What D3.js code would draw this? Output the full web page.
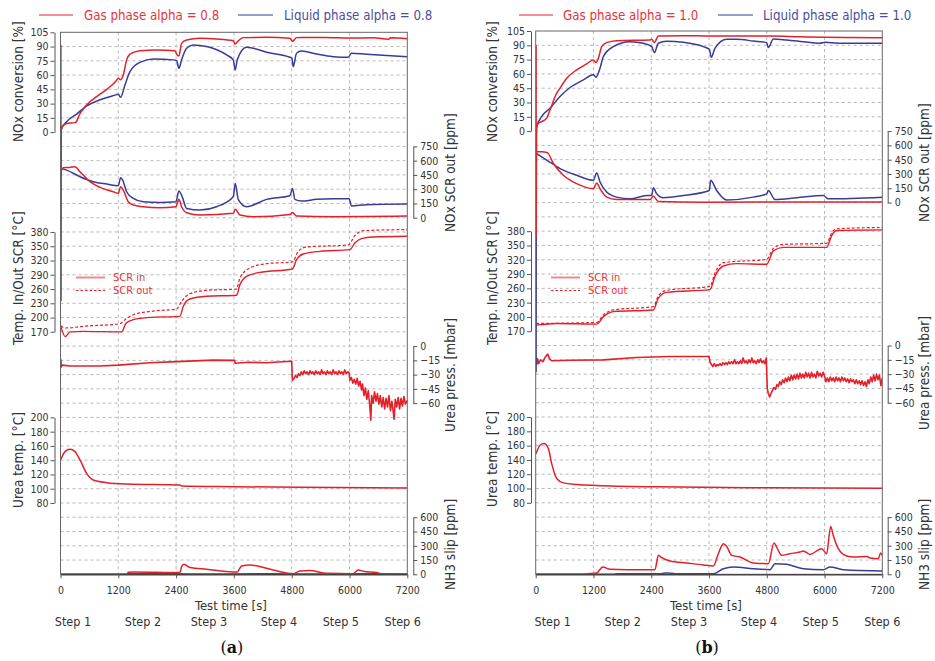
<!DOCTYPE html>
<html><head><meta charset="utf-8">
<script src="https://cdn.jsdelivr.net/npm/d3@7"></script>
<style>
body{margin:0;background:#fff}
svg{display:block}
text{font-family:"DejaVu Sans Condensed","DejaVu Sans",sans-serif}
</style>
</head><body>
<svg id="chart" width="935" height="661"></svg>
<script>
// ---------- tick labels / categories ----------
const timeTicks = [0,1200,2400,3600,4800,6000,7200];
const stepLabels = ["Step 1","Step 2","Step 3","Step 4","Step 5","Step 6"];
const convTicks = [0,15,30,45,60,75,90,105];
const noxTicks = [0,150,300,450,600,750];
const tempTicks = [170,200,230,260,290,320,350,380];
const pressTicks = [0,-15,-30,-45,-60];
const ureaTTicks = [80,100,120,140,160,180,200];
const nh3Ticks = [0,150,300,450,600];
const legendA = ["Gas phase alpha = 0.8","Liquid phase alpha = 0.8"];
const legendB = ["Gas phase alpha = 1.0","Liquid phase alpha = 1.0"];
const tempLegend = ["SCR in","SCR out"];

// ---------- panel (a) series: [time s, value] ----------
const convGasA = [[8,92],[12,-177],[16,2],[40,6],[128,9],[300,10],[330,11],[380,17],[543,28.6],[750,37.3],[958,45],[1131,52.4],[1200,56.6],[1248,55],[1303,60],[1373,76],[1442,82],[1650,85.7],[1995,86.4],[2376,85.7],[2410,82],[2458,80],[2514,93.4],[2618,97],[2895,98.7],[3240,98],[3586,96.2],[3621,92.7],[3670,95],[3790,99.4],[4280,99.7],[4762,98.7],[4817,95.5],[4900,99.4],[5500,99.5],[6000,99],[6500,99.2],[6812,97.6],[6850,99.3],[7200,98.3]];
const convLiqA = [[8,0],[25,4],[128,11],[335,19],[543,27.5],[820,34],[1096,38.4],[1200,39.8],[1248,36.6],[1338,49.6],[1442,63.6],[1650,73.4],[1926,77],[2341,76],[2410,75.2],[2458,67.1],[2514,76],[2618,88.2],[2756,91.7],[3033,90],[3448,81.2],[3586,76],[3628,65.4],[3669,76],[3862,89.2],[4000,88.2],[4277,84],[4762,78.7],[4804,77.7],[4832,68.9],[4900,83],[5004,85.4],[5315,82.2],[5661,79.4],[5972,78.7],[6041,83],[6352,81.9],[7200,79.4]];
const noxGasA = [[8,640],[16,500],[59,526],[197,529],[301,536],[405,484],[612,379],[820,319],[1096,273],[1200,256],[1248,326],[1303,291],[1407,168],[1511,133],[1718,116],[2064,105],[2396,116],[2458,193],[2514,116],[2618,53],[2895,28],[3586,46],[3628,88],[3725,28],[4000,10],[4762,35],[4817,56],[4900,17],[5661,10],[7200,17]];
const noxLiqA = [[8,519],[128,501],[405,431],[681,379],[958,354],[1200,336],[1248,421],[1290,396],[1373,273],[1511,203],[1718,168],[2064,161],[2396,168],[2458,280],[2514,238],[2618,98],[2895,81],[3240,116],[3586,221],[3628,361],[3690,193],[3862,116],[4277,193],[4762,231],[4817,308],[4866,193],[5004,175],[5315,193],[5661,200],[5993,200],[6041,123],[6352,137],[7200,144]];
const tempInA = [[8,181],[100,160],[200,170],[474,171],[1269,170],[1359,188],[1511,195.6],[1857,200.5],[2479,202.6],[2549,223.7],[2687,239],[3033,244.7],[3655,246.8],[3725,269.2],[3862,286.8],[4139,295],[4817,302.2],[4900,321.8],[5038,333.7],[5384,339.3],[6007,342.8],[6111,356.9],[6249,366],[6490,369.5],[7200,371]];
const tempOutA = [[8,183],[93,178],[474,181.6],[1234,187],[1338,195.6],[1511,206],[1857,213],[2410,218],[2514,234.2],[2687,250.3],[3033,257.3],[3655,260],[3725,283.2],[3932,304.3],[4277,313.4],[4817,317],[4935,339.3],[5107,348.4],[5972,352.7],[6111,372.3],[6284,382.8],[7200,385]];
const pressA = [[8,-14],[16,-22],[30,-20],[200,-21],[820,-21],[1200,-20],[1857,-17.5],[2410,-16.3],[3171,-14.8],[3615,-15],[3625,-18],[3900,-17],[4277,-17.5],[4600,-16.5],[4800,-16],[4815,-36],[4850,-34],[4880,-31],[4910,-33],[4940,-29],[4970,-31],[5000,-27],[5030,-30],[5060,-26],[5090,-29],[5120,-27],[5150,-30],[5180,-26],[5210,-29],[5240,-27],[5270,-30],[5300,-26],[5330,-29],[5360,-27],[5390,-30],[5420,-25],[5450,-29],[5480,-27],[5510,-30],[5540,-26],[5570,-29],[5600,-27],[5630,-30],[5660,-25],[5690,-29],[5720,-27],[5750,-30],[5780,-26],[5810,-29],[5840,-27],[5870,-30],[5900,-25],[5930,-29],[5960,-27],[5990,-28],[6010,-36],[6040,-33],[6070,-39],[6100,-35],[6130,-40],[6160,-34],[6190,-42],[6220,-37],[6250,-46],[6270,-40],[6300,-52],[6330,-44],[6360,-56],[6390,-47],[6420,-62],[6443,-78],[6460,-52],[6490,-60],[6520,-48],[6550,-58],[6580,-50],[6610,-61],[6640,-52],[6670,-64],[6700,-54],[6730,-66],[6760,-55],[6790,-64],[6820,-52],[6850,-68],[6880,-58],[6910,-70],[6926,-77],[6950,-56],[6980,-64],[7010,-54],[7040,-66],[7070,-55],[7100,-63],[7130,-53],[7160,-61],[7200,-57]];
const ureaTA = [[8,141],[93,152],[197,155.2],[301,152],[405,140.3],[543,121.6],[681,112.2],[958,108.5],[1373,106.6],[2479,105.2],[2514,103.8],[3586,102.9],[4970,102],[7200,101]];
const nh3GasA = [[8,0],[1373,0],[1407,21],[1511,25],[2479,18],[2514,81],[2562,106],[2687,71],[3033,53],[3586,25],[3669,25],[3759,88],[3932,99],[4277,64],[4623,21],[4832,7],[4970,35],[5177,39],[5523,11],[6076,7],[6180,46],[6284,32],[6560,18],[6698,4],[7200,4]];
const nh3LiqA = [[8,0],[1380,0],[1420,6],[2400,5],[3000,4],[4400,6],[5000,4],[6500,5],[7200,3]];

// ---------- panel (b) series ----------
const convGasB = [[8,90],[12,-112],[18,5],[56,8.4],[125,10],[228,13.6],[298,22.3],[436,39.8],[505,45],[644,55.5],[851,64.2],[1059,70.5],[1198,74.7],[1253,71.9],[1302,76.4],[1371,88.6],[1475,92.8],[1682,94.9],[2375,95.6],[2409,96.3],[2465,92.8],[2548,99.8],[3067,100],[3621,99.8],[4867,99.8],[5500,99],[7200,98]];
const convLiqB = [[8,-253],[13,0],[25,5],[125,15.4],[298,24],[505,36.3],[713,45.7],[990,53.7],[1198,59],[1253,56.5],[1336,66],[1405,78.1],[1613,88.6],[1959,93.8],[2236,92.1],[2409,88.6],[2465,82.3],[2548,92.1],[2721,94.2],[3067,93.1],[3482,88.6],[3607,85.8],[3648,77.4],[3725,87],[3967,96.3],[4175,96.3],[4521,94.5],[4798,92.8],[4832,87.6],[4936,96.6],[5213,95.6],[5559,93.8],[5905,92.1],[6009,93.1],[6286,92.1],[7200,92.1]];
const noxGasB = [[8,590],[21,534],[125,534],[242,524],[367,410],[575,287],[851,198],[1198,145],[1267,205],[1336,145],[1475,57],[1682,32],[2375,32],[2444,67],[2548,11],[3482,4],[7200,7]];
const noxLiqB = [[8,517],[228,446],[505,357],[851,287],[1198,234],[1267,311],[1336,216],[1475,110],[1682,57],[1959,39],[2305,74],[2409,74],[2444,156],[2513,92],[2652,50],[3067,74],[3607,127],[3635,234],[3759,127],[3967,28],[4521,57],[4798,92],[4832,127],[4971,32],[5420,50],[5975,74],[6078,39],[7200,57]];
const tempInB = [[8,182.8],[436,186.3],[1267,185],[1405,200.5],[1613,211.1],[2444,214.7],[2548,239.5],[2721,251.6],[3621,257.3],[3725,285.6],[3898,306.9],[4175,311.9],[4798,310.5],[4936,338.8],[5144,346],[6044,346],[6148,370.8],[6252,381.4],[7200,382.8]];
const tempOutB = [[8,186.3],[1267,188.4],[1405,204],[1613,214.7],[2444,221.8],[2548,244.5],[2721,255.8],[3621,264.3],[3725,292.7],[3898,314],[4798,321],[4936,343.8],[5144,352.3],[6044,354.5],[6148,376.5],[6252,385],[7200,387.8]];
const pressB = [[8,-12],[20,-20],[40,-14],[60,-19],[100,-15],[150,-17],[200,-12],[250,-9],[290,-14],[330,-16],[713,-15.5],[1405,-15],[2098,-12.5],[2790,-11.5],[3600,-11.5],[3620,-17],[3650,-20],[3680,-22],[3710,-19],[3740,-22],[3770,-20],[3800,-21],[3830,-19],[3860,-21],[3890,-18],[3920,-20],[3950,-18],[3980,-20],[4010,-17],[4040,-19],[4070,-17],[4100,-19],[4130,-15],[4160,-19],[4190,-17],[4220,-19],[4250,-16],[4280,-19],[4310,-13],[4340,-18],[4370,-16],[4400,-19],[4430,-15],[4460,-18],[4490,-13],[4520,-18],[4550,-16],[4580,-19],[4610,-15],[4640,-18],[4670,-14],[4700,-18],[4730,-16],[4760,-19],[4790,-13],[4810,-45],[4830,-50],[4860,-54],[4890,-50],[4920,-47],[4950,-44],[4980,-46],[5010,-41],[5040,-43],[5070,-38],[5100,-41],[5130,-36],[5160,-39],[5190,-34],[5220,-38],[5250,-33],[5280,-37],[5310,-31],[5340,-36],[5370,-31],[5400,-35],[5430,-30],[5460,-35],[5490,-29],[5520,-34],[5550,-30],[5580,-34],[5610,-28],[5640,-33],[5670,-29],[5700,-34],[5730,-28],[5760,-33],[5790,-30],[5820,-34],[5850,-27],[5880,-32],[5910,-29],[5940,-33],[5970,-28],[6000,-32],[6030,-38],[6060,-34],[6090,-38],[6120,-33],[6150,-37],[6180,-34],[6210,-38],[6240,-33],[6270,-37],[6300,-34],[6330,-38],[6360,-33],[6390,-37],[6420,-34],[6450,-38],[6480,-35],[6510,-39],[6540,-35],[6570,-38],[6600,-36],[6630,-40],[6660,-36],[6690,-40],[6720,-37],[6750,-41],[6780,-37],[6810,-42],[6840,-38],[6870,-43],[6900,-36],[6930,-40],[6960,-33],[6990,-38],[7020,-31],[7050,-37],[7080,-30],[7110,-36],[7140,-31],[7170,-42],[7200,-34]];
const ureaTB = [[8,148.8],[90,160.5],[173,162.8],[263,155.8],[332,134.9],[436,114],[575,107.9],[851,105.6],[1267,104.2],[2513,102.3],[4867,101],[7200,100.5]];
const nh3GasB = [[8,0],[1000,0],[1025,3],[1267,14],[1392,77],[1544,52],[1890,49],[2478,49],[2548,199],[2617,174],[2790,140],[3136,119],[3482,98],[3690,87],[3794,216],[3898,321],[3967,293],[4071,199],[4244,181],[4521,119],[4832,112],[4950,328],[5005,286],[5109,199],[5282,216],[5490,234],[5559,244],[5698,209],[5940,269],[6044,216],[6127,502],[6182,408],[6286,269],[6459,192],[6598,181],[6875,188],[6944,171],[7117,164],[7165,223],[7200,199]];
const nh3LiqB = [[8,0],[1600,0],[1700,5],[2600,6],[2721,14],[2900,7],[3690,7],[3898,59],[4105,77],[4521,59],[4867,49],[4971,112],[5213,105],[5559,59],[5975,49],[6113,77],[6390,49],[7200,35]];

// ---------- styling ----------
const RED = "#e3202a", BLUE = "#383c96";
const RED_TXT = "#e8343c", BLUE_TXT = "#4a4da2";
const FONT = '"DejaVu Sans Condensed","DejaVu Sans",sans-serif';
const svg = d3.select("#chart");

function drawPanel(cfg){
  const g = svg.append("g");
  const x = d3.scaleLinear().domain([0,7200]).range([cfg.x0,cfg.x1]);
  const rowY = d3.scaleLinear().domain([0,38]).range([cfg.y0,cfg.y1]);

  // grid
  const grid = g.append("g").attr("stroke","#b8b8b8").attr("stroke-width",1).attr("stroke-dasharray","3,3");
  d3.range(1,38).forEach(r=>{
    grid.append("line").attr("x1",cfg.x0).attr("x2",cfg.x1).attr("y1",rowY(r)).attr("y2",rowY(r));
  });
  timeTicks.slice(1,-1).forEach(t=>{
    grid.append("line").attr("x1",x(t)).attr("x2",x(t)).attr("y1",cfg.y0).attr("y2",cfg.y1);
  });

  // axes
  const scales = {};
  cfg.axes.forEach(a=>{
    const s = d3.scaleLinear().domain([a.vTop,a.vBot]).range([rowY(a.rTop),rowY(a.rBot)]);
    scales[a.key] = s;
    const left = a.side==="left";
    const ax = (left?d3.axisLeft(s):d3.axisRight(s)).tickValues(a.ticks).tickFormat(d3.format("d"))
      .tickSize(4).tickSizeOuter(0).tickPadding(left?2:3);
    const ag = g.append("g").attr("transform",`translate(${left?cfg.lx:cfg.rx},0)`).call(ax);
    ag.select(".domain").attr("stroke","#555");
    ag.selectAll(".tick line").attr("stroke","#555");
    ag.selectAll(".tick text").attr("fill","#333").style("font-size","10.5px").style("font-family",FONT);
    const tx = left?cfg.ltx:cfg.rtx;
    g.append("text").attr("transform",`translate(${tx},${a.titleBottom}) rotate(-90)`)
      .attr("dy","0.35em").attr("text-anchor","start").attr("fill","#333")
      .style("font-size","13.5px").text(a.title);
  });

  // clip
  const cid = "clip"+cfg.id;
  svg.append("clipPath").attr("id",cid).append("rect")
    .attr("x",cfg.x0).attr("y",cfg.y0).attr("width",cfg.x1-cfg.x0).attr("height",cfg.y1-cfg.y0);
  const lg = g.append("g").attr("clip-path",`url(#${cid})`);
  cfg.series.forEach(sr=>{
    const s = scales[sr.axis];
    const line = d3.line().x(d=>x(d[0])).y(d=>s(d[1])).curve(sr.linear?d3.curveLinear:d3.curveMonotoneX);
    lg.append("path").datum(sr.data).attr("d",line).attr("fill","none")
      .attr("stroke",sr.color).attr("stroke-width",sr.w||1.5)
      .attr("stroke-linejoin","round")
      .attr("stroke-dasharray",sr.dash||null);
  });

  // frame
  g.append("rect").attr("x",cfg.x0).attr("y",cfg.y0).attr("width",cfg.x1-cfg.x0).attr("height",cfg.y1-cfg.y0)
    .attr("fill","none").attr("stroke","#666").attr("stroke-width",1);

  // x axis
  const xa = g.append("g").attr("transform",`translate(0,${cfg.y1})`)
    .call(d3.axisBottom(x).tickValues(timeTicks).tickFormat(d3.format("d")).tickSize(4).tickSizeOuter(0).tickPadding(8));
  xa.select(".domain").attr("stroke","#444").attr("stroke-width",1.6);
  xa.selectAll(".tick line").attr("stroke","#555");
  xa.selectAll(".tick text").attr("fill","#333").style("font-size","10.5px").style("font-family",FONT);
  g.append("text").attr("x",(cfg.x0+cfg.x1)/2-3).attr("y",cfg.y1+36).attr("text-anchor","middle")
    .attr("fill","#333").style("font-size","13px").text("Test time [s]");
  stepLabels.forEach((s,i)=>{
    g.append("text").attr("x",x(cfg.stepT[i])).attr("y",cfg.y1+52).attr("text-anchor","middle")
      .attr("fill","#333").style("font-size","12.5px").text(s);
  });
  // panel letter
  const pl = g.append("text").attr("x",(cfg.x0+cfg.x1)/2-2).attr("y",653).attr("text-anchor","middle")
    .style("font-family",'"DejaVu Serif","Liberation Serif",serif').style("font-size","16px").attr("fill","#111");
  pl.append("tspan").text("(");
  pl.append("tspan").attr("font-weight","bold").text(cfg.letter);
  pl.append("tspan").text(")");

  // top legend
  const L = cfg.legend;
  [[L.r0,L.r1,L.rt,RED,RED_TXT,cfg.legendText[0]],[L.b0,L.b1,L.bt,BLUE,BLUE_TXT,cfg.legendText[1]]].forEach(d=>{
    g.append("line").attr("x1",d[0]).attr("x2",d[1]).attr("y1",15).attr("y2",15).attr("stroke",d[3]).attr("stroke-width",1.2);
    g.append("text").attr("x",d[2]).attr("y",15).attr("dy","0.35em").attr("fill",d[4]).style("font-size","13.2px").text(d[5]);
  });

  // temperature legend
  const T = cfg.tleg;
  g.append("line").attr("x1",T.x0).attr("x2",T.x1).attr("y1",277.5).attr("y2",277.5).attr("stroke","#ee8a8c").attr("stroke-width",2);
  g.append("line").attr("x1",T.x0).attr("x2",T.x1).attr("y1",290.5).attr("y2",290.5).attr("stroke",RED).attr("stroke-width",1).attr("stroke-dasharray","2.5,2");
  g.append("text").attr("x",T.tx).attr("y",277.5).attr("dy","0.35em").attr("fill",RED_TXT).style("font-size","11px").text(tempLegend[0]);
  g.append("text").attr("x",T.tx).attr("y",290.5).attr("dy","0.35em").attr("fill",RED_TXT).style("font-size","11px").text(tempLegend[1]);
}

function axesFor(noxTop, bottoms){
  return [
    {key:"conv",side:"left",rTop:0,rBot:7,vTop:105,vBot:0,ticks:convTicks,title:"NOx conversion [%]",titleBottom:bottoms[0]},
    {key:"nox",side:"right",rTop:noxTop,rBot:noxTop+5,vTop:750,vBot:0,ticks:noxTicks,title:"NOx SCR out [ppm]",titleBottom:bottoms[1]},
    {key:"temp",side:"left",rTop:14,rBot:21,vTop:380,vBot:170,ticks:tempTicks,title:"Temp. In/Out SCR [°C]",titleBottom:bottoms[2]},
    {key:"press",side:"right",rTop:22,rBot:26,vTop:0,vBot:-60,ticks:pressTicks,title:"Urea press. [mbar]",titleBottom:bottoms[3]},
    {key:"ureaT",side:"left",rTop:27,rBot:33,vTop:200,vBot:80,ticks:ureaTTicks,title:"Urea temp. [°C]",titleBottom:bottoms[4]},
    {key:"nh3",side:"right",rTop:34,rBot:38,vTop:600,vBot:0,ticks:nh3Ticks,title:"NH3 slip [ppm]",titleBottom:bottoms[5]}
  ];
}
function seriesFor(cg,cl,ng,nl,ti,to,pr,ut,hg,hl){
  return [
    {axis:"temp",data:to,color:RED,w:1.2,dash:"3,2"},
    {axis:"temp",data:ti,color:RED,w:1.4},
    {axis:"press",data:pr,color:RED,w:1.6,linear:true},
    {axis:"ureaT",data:ut,color:RED,w:1.5},
    {axis:"nh3",data:hl,color:BLUE,w:1.5},
    {axis:"nh3",data:hg,color:RED,w:1.5},
    {axis:"nox",data:nl,color:BLUE,w:1.5},
    {axis:"nox",data:ng,color:RED,w:1.5},
    {axis:"conv",data:cl,color:BLUE,w:1.5},
    {axis:"conv",data:cg,color:RED,w:1.5}
  ];
}

drawPanel({
  id:"a", letter:"a", x0:60.5, x1:407.3, y0:32.3, y1:574.3, lx:54.5, rx:413.3, ltx:18, rtx:450,
  axes: axesFor(8,[142,232,345,432,508,590]),
  series: seriesFor(convGasA,convLiqA,noxGasA,noxLiqA,tempInA,tempOutA,pressA,ureaTA,nh3GasA,nh3LiqA),
  stepT:[259,1712,3081,4534,5820,7106],
  legend:{r0:39,r1:73,rt:84,b0:238,b1:273,bt:284}, legendText:legendA,
  tleg:{x0:76,x1:105,tx:113}
});
drawPanel({
  id:"b", letter:"b", x0:535.7, x1:882.3, y0:31, y1:574.3, lx:531, rx:887.7, ltx:492, rtx:924,
  axes: axesFor(7,[142,222,345,430,507,590]),
  series: seriesFor(convGasB,convLiqB,noxGasB,noxLiqB,tempInB,tempOutB,pressB,ureaTB,nh3GasB,nh3LiqB),
  stepT:[353,1807,3184,4638,5920,7200],
  legend:{r0:519,r1:553,rt:563,b0:718,b1:753,bt:763}, legendText:legendB,
  tleg:{x0:551,x1:580,tx:588}
});
</script>
</body></html>
